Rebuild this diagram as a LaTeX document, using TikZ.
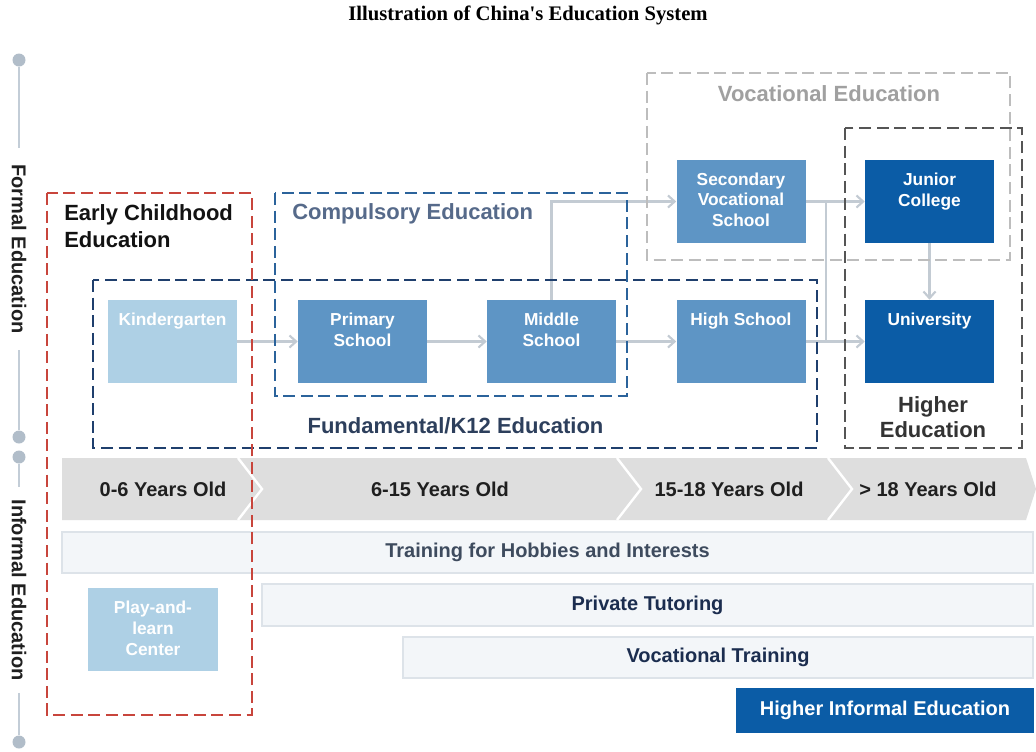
\documentclass[tikz,border=0pt]{standalone}
\usepackage{fontspec}
\setmainfont{Liberation Sans}
\newfontfamily\serifbold{Liberation Serif}
\usetikzlibrary{arrows.meta}
\definecolor{cRed}{HTML}{C8453C}
\definecolor{cNavy}{HTML}{1F3F6D}
\definecolor{cComp}{HTML}{2B639B}
\definecolor{cVoc}{HTML}{BDBDBD}
\definecolor{cHigh}{HTML}{555555}
\definecolor{cLight}{HTML}{AED0E5}
\definecolor{cMid}{HTML}{5E95C5}
\definecolor{cDark}{HTML}{0B5CA6}
\definecolor{cConn}{HTML}{C3CBD3}
\definecolor{cBand}{HTML}{DEDEDE}
\definecolor{cBar}{HTML}{F3F6F9}
\definecolor{cBarLine}{HTML}{DDE3E9}
\definecolor{cAxis}{HTML}{C3CDD7}
\definecolor{cDot}{HTML}{B1BDC9}
\definecolor{cCompTxt}{HTML}{566A8A}
\definecolor{cFundTxt}{HTML}{2D3F5C}
\definecolor{cVocTxt}{HTML}{A0A0A0}
\definecolor{cBarTxt}{HTML}{1B2D4F}
\definecolor{cHobTxt}{HTML}{3E4B5E}
\begin{document}
\begin{tikzpicture}[x=0.75pt,y=-0.75pt,
  box/.style={rectangle, inner sep=0pt, minimum width=96.75pt, minimum height=62.25pt},
  boxtext/.style={anchor=north, inner sep=0pt, yshift=-10pt, text=white, align=center, font=\bfseries\fontsize{13}{15.5}\selectfont},
  lightbox/.style={box, fill=cLight},
  midbox/.style={box, fill=cMid},
  darkbox/.style={box, fill=cDark},
  conn/.style={draw=cConn, line width=1.6pt, -{Straight Barb[length=5pt,width=9pt]}},
  connline/.style={draw=cConn, line width=1.6pt},
  frame/.style={line width=2.2pt, dash pattern=on 9pt off 4.2pt},
  bigtitle/.style={inner sep=0pt, font=\bfseries\fontsize{16.5}{20.25}\selectfont},
  agetext/.style={inner sep=0pt, text=black!88, font=\bfseries\fontsize{15}{18}\selectfont},
  bar/.style={rectangle, inner sep=0pt, fill=cBar, draw=cBarLine, line width=0.9pt, font=\bfseries\fontsize{15}{18}\selectfont},
  dotnode/.style={circle, fill=cDot, inner sep=0pt, minimum size=9.75pt},
  axtext/.style={rotate=-90, inner xsep=10pt, inner ysep=0pt, text=black!88, font=\bfseries\fontsize{15}{18}\selectfont},
  axline/.style={draw=cAxis, line width=1.5pt}
]
\useasboundingbox[fill=white] (0,0) rectangle (1036,751);

% title
\node[inner sep=0pt, font=\serifbold\bfseries\fontsize{15.5}{18}\selectfont] (title) at (528,15) {Illustration of China's Education System};

% left axis
\node[dotnode] (a1) at (19,60) {};
\node[axtext, inner xsep=12.4pt] (fe) at (19,249) {Formal Education};
\node[dotnode] (a2) at (19,437) {};
\node[dotnode] (a3) at (19,457) {};
\node[axtext, inner xsep=9pt] (ie) at (19,590) {Informal Education};
\node[dotnode] (a4) at (19,742) {};
\draw[axline] (a1) -- (fe);
\draw[axline] (fe) -- (a2);
\draw[axline] (a3) -- (ie);
\draw[axline] (ie) -- (a4);

% age band
\fill[cBand] (62,458) -- (1026,458) -- (1036,489) -- (1026,520) -- (62,520) -- cycle;
\draw[white, line width=1.8pt] (238,458) -- (262,489) -- (238,520);
\draw[white, line width=1.8pt] (617,458) -- (641,489) -- (617,520);
\draw[white, line width=1.8pt] (828,458) -- (852,489) -- (828,520);
\node[agetext] (g1) at (163,489) {0-6 Years Old};
\node[agetext] (g2) at (440,489) {6-15 Years Old};
\node[agetext] (g3) at (729,489) {15-18 Years Old};
\node[agetext] (g4) at (928,489) {> 18 Years Old};

% informal bars
\node[bar, minimum width=728.25pt, minimum height=30.75pt, text=cHobTxt] (b1) at (547.5,552.5) {Training for Hobbies and Interests};
\node[bar, minimum width=578.25pt, minimum height=31.5pt, text=cBarTxt] (b2) at (647.5,605) {Private Tutoring};
\node[bar, minimum width=472.5pt, minimum height=30.75pt, text=cBarTxt] (b3) at (718,657.5) {Vocational Training};
\node[bar, minimum width=222pt, minimum height=32.25pt, fill=cDark, draw=cDark, text=white] (b4) at (885,710.5) {Higher Informal Education};
\node[lightbox, minimum width=97.5pt, label={[boxtext]north:{Play-and-\\learn\\Center}}] (play) at (153,629.5) {};

% formal boxes
\node[lightbox, label={[boxtext]north:{Kindergarten}}] (kg) at (172.5,341.5) {};
\node[midbox, label={[boxtext]north:{Primary\\School}}] (prim) at (362.5,341.5) {};
\node[midbox, label={[boxtext]north:{Middle\\School}}] (mid) at (551.5,341.5) {};
\node[midbox, label={[boxtext]north:{High School}}] (high) at (741,341.5) {};
\node[midbox, label={[boxtext, yshift=0.5pt]north:{Secondary\\Vocational\\School}}] (sec) at (741,201.5) {};
\node[darkbox, label={[boxtext]north:{Junior\\College}}] (jc) at (929.5,201.5) {};
\node[darkbox, label={[boxtext]north:{University}}] (uni) at (929.5,341.5) {};

% connectors
\coordinate (jx) at (826,0);
\draw[conn] (kg) -- (prim);
\draw[conn] (prim) -- (mid);
\draw[conn] (mid) -- (high);
\draw[conn] (mid.north) |- (sec.west);
\draw[conn] (sec) -- (jc);
\draw[connline] (sec.east -| jx) -- (high.east -| jx);
\draw[conn] (high) -- (uni);
\draw[conn] (jc) -- (uni);

% dashed frames
\draw[frame, cVoc, line width=1.9pt] (647,73) rectangle (1010,260);
\draw[frame, cHigh] (845,128) rectangle (1022,448);
\draw[frame, cNavy] (93,280) rectangle (817,448);
\draw[frame, cComp] (275,193) rectangle (627,396);
\draw[frame, cRed] (47,193) rectangle (252,715);

% frame titles
\node[bigtitle, anchor=west, align=left, text=black!93] (ecTitle) at (64,226.5) {Early Childhood\\Education};
\node[bigtitle, anchor=west, text=cCompTxt] (compTitle) at (292,214) {Compulsory Education};
\node[bigtitle, text=cFundTxt] (fundTitle) at (455.5,426) {Fundamental/K12 Education};
\node[bigtitle, text=cVocTxt] (vocTitle) at (829,94) {Vocational Education};
\node[bigtitle, align=center, font=\bfseries\fontsize{16.5}{18.75}\selectfont, text=black!80] (highTitle) at (933,417.5) {Higher\\Education};
\end{tikzpicture}
\end{document}
